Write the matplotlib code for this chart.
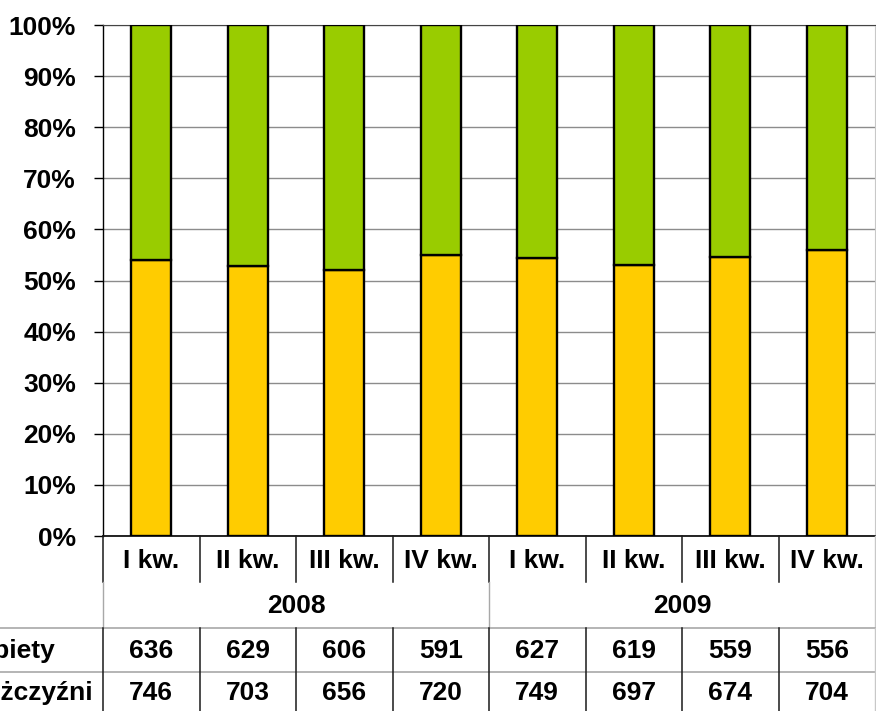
import matplotlib.pyplot as plt
import numpy as np

plt.rcParams['font.family'] = ['Liberation Sans', 'DejaVu Sans']
plt.rcParams['font.weight'] = 'bold'

quarters = ["I kw.", "II kw.", "III kw.", "IV kw.", "I kw.", "II kw.", "III kw.", "IV kw."]
years = ["2008", "2009"]
kobiety = [636, 629, 606, 591, 627, 619, 559, 556]
mezczyzni = [746, 703, 656, 720, 749, 697, 674, 704]

W, H = 876, 711
fig = plt.figure(figsize=(W / 100, H / 100), dpi=100)

# plot area in pixels
x0, x1 = 103, 875
y_top, y_zero = 25, 536
col = (x1 - x0) / len(quarters)

ax = fig.add_axes([x0 / W, (H - y_zero) / H, (x1 - x0) / W, (y_zero - y_top) / H])

k = np.array(kobiety, dtype=float)
m = np.array(mezczyzni, dtype=float)
total = k + m
x = np.arange(len(quarters))

# stacked 100% bars: men at the bottom, women on top
ax.bar(x, m / total, width=0.41, color="#FFCC00", edgecolor="black", linewidth=1.7, zorder=3)
ax.bar(x, k / total, bottom=m / total, width=0.41, color="#99CC00", edgecolor="black",
       linewidth=1.7, zorder=3)

fs = 19
ax.set_xlim(-0.5, len(quarters) - 0.5)
ax.set_ylim(0, 1)
ax.set_yticks(np.arange(0, 1.01, 0.1))
ax.set_yticklabels([f"{int(round(v * 100))}%" for v in np.arange(0, 1.01, 0.1)])
ax.tick_params(axis="y", length=6.5, width=1, pad=13, labelsize=fs, direction="out")
ax.set_xticks([])
ax.grid(axis="y", color="#8c8c8c", linewidth=1, zorder=0)
ax.spines["top"].set_color("#444444")
ax.spines["right"].set_color("#c8c8c8")
ax.spines["left"].set_linewidth(1)
ax.spines["bottom"].set_linewidth(1.2)

# data table under the chart (y in pixels below the 0% line)
tab = fig.add_axes([x0 / W, 0, (x1 - x0) / W, (H - y_zero) / H])
tab.set_xlim(-0.5, len(quarters) - 0.5)
tab.set_ylim(H - y_zero, 0)
tab.axis("off")

r_q, r_y, r_k = 46, 92, 136  # row boundaries
bounds = np.arange(len(quarters) + 1) - 0.5
dark = "#1a1a1a"
light = "#a8a8a8"

# quarter row vertical separators
for b in bounds[:-1]:
    tab.plot([b, b], [0, r_q], color=dark, lw=1.1, clip_on=False)
tab.plot([bounds[-1], bounds[-1]], [0, r_y], color="#c8c8c8", lw=1, clip_on=False)
# year row borders
for b in [bounds[0], bounds[4]]:
    tab.plot([b, b], [r_q, r_y], color=light, lw=1, clip_on=False)
# data rows
xl = -0.5 - 103 / col
tab.plot([xl, bounds[-1]], [r_y, r_y], color=light, lw=1.2, clip_on=False)
tab.plot([xl, bounds[-1]], [r_k, r_k], color=light, lw=1.2, clip_on=False)
for b in bounds[:-1]:
    tab.plot([b, b], [r_y, H - y_zero], color=dark, lw=1.1, clip_on=False)
tab.plot([bounds[-1], bounds[-1]], [r_y, H - y_zero], color="#c8c8c8", lw=1, clip_on=False)

for i, q in enumerate(quarters):
    tab.text(i, 25, q, ha="center", va="center", fontsize=fs, fontweight="bold", clip_on=False)
    tab.text(i, 115, str(kobiety[i]), ha="center", va="center", fontsize=fs,
             fontweight="bold", clip_on=False)
    tab.text(i, 157, str(mezczyzni[i]), ha="center", va="center", fontsize=fs,
             fontweight="bold", clip_on=False)
for j, yr in enumerate(years):
    tab.text(1.5 + 4 * j, 70, yr, ha="center", va="center", fontsize=fs, fontweight="bold",
             clip_on=False)

# row headers are cut by the left edge, as in the reference
tab.text(-0.5 - 48 / col, 115, "Kobiety", ha="right", va="center", fontsize=fs,
         fontweight="bold", clip_on=False)
tab.text(-0.5 - 10 / col, 157, "Mężczyźni", ha="right", va="center", fontsize=fs,
         fontweight="bold", clip_on=False)

fig.savefig("out.png", dpi=100)
